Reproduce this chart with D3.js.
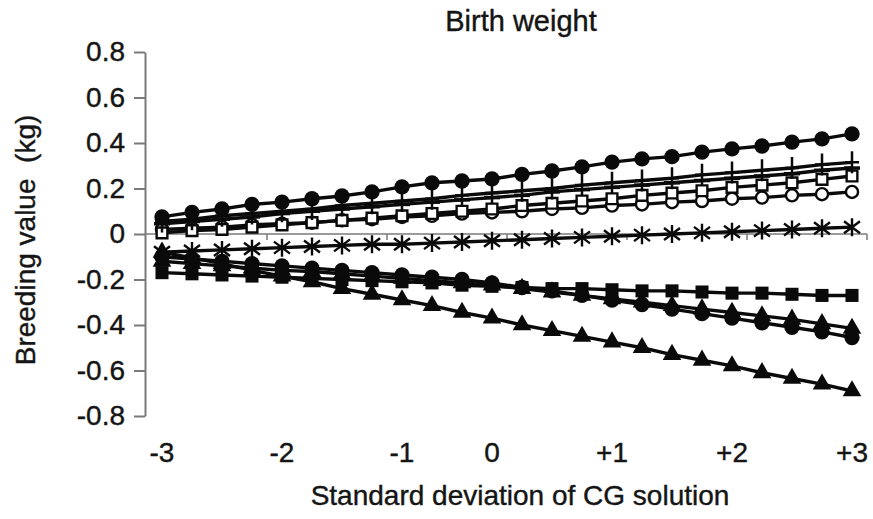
<!DOCTYPE html>
<html>
<head>
<meta charset="utf-8">
<script src="https://cdn.jsdelivr.net/npm/d3@7"></script>
<style>
  html, body { margin: 0; padding: 0; background: #fff; }
  svg { display: block; font-family: Arial, "Liberation Sans", Helvetica, sans-serif; }
</style>
</head>
<body>
<svg id="chart" width="873" height="519"></svg>
<script>
// Category labels along the horizontal axis (24 evaluation points)
const categories = ["-3","","","","-2","","","","-1","","","0","","","","+1","","","","+2","","","","+3"];

// Y axis ticks
const yTicks = [0.8, 0.6, 0.4, 0.2, 0, -0.2, -0.4, -0.6, -0.8];
const yTickLabels = ["0.8", "0.6", "0.4", "0.2", "0", "-0.2", "-0.4", "-0.6", "-0.8"];

// Breeding values (kg) for each animal
const filledCircleTop = [0.075,0.095,0.11,0.13,0.14,0.155,0.167,0.185,0.207,0.225,0.233,0.242,0.262,0.277,0.295,0.316,0.33,0.34,0.36,0.374,0.387,0.404,0.418,0.44];
const plusSeries = [0.055,0.065,0.08,0.09,0.10,0.11,0.125,0.135,0.145,0.155,0.17,0.18,0.19,0.20,0.215,0.225,0.235,0.245,0.26,0.27,0.28,0.29,0.305,0.315];
const dashSeries = [0.045,0.055,0.065,0.075,0.09,0.10,0.11,0.12,0.13,0.14,0.15,0.16,0.17,0.185,0.195,0.205,0.215,0.225,0.235,0.245,0.255,0.265,0.28,0.29];
const openSquare = [0.005,0.015,0.02,0.03,0.04,0.05,0.06,0.07,0.08,0.09,0.10,0.11,0.125,0.135,0.145,0.155,0.17,0.18,0.19,0.205,0.215,0.225,0.24,0.255];
const openCircle = [0.02,0.025,0.03,0.04,0.045,0.05,0.06,0.065,0.075,0.08,0.09,0.095,0.10,0.11,0.115,0.125,0.13,0.14,0.145,0.155,0.16,0.17,0.175,0.185];
const starSeries = [-0.08,-0.075,-0.07,-0.065,-0.06,-0.055,-0.05,-0.045,-0.045,-0.04,-0.035,-0.03,-0.025,-0.02,-0.015,-0.01,-0.005,0,0.005,0.01,0.015,0.02,0.025,0.03];
const filledSquare = [-0.17,-0.175,-0.18,-0.185,-0.19,-0.195,-0.20,-0.205,-0.21,-0.215,-0.225,-0.23,-0.235,-0.24,-0.24,-0.245,-0.25,-0.25,-0.255,-0.26,-0.26,-0.265,-0.27,-0.27];
const filledCircleLow = [-0.10,-0.11,-0.12,-0.13,-0.14,-0.15,-0.16,-0.17,-0.18,-0.19,-0.20,-0.215,-0.235,-0.25,-0.27,-0.29,-0.31,-0.33,-0.35,-0.37,-0.39,-0.41,-0.43,-0.455];
const triangleMid = [-0.12,-0.13,-0.14,-0.15,-0.16,-0.165,-0.175,-0.185,-0.195,-0.205,-0.215,-0.225,-0.24,-0.255,-0.27,-0.285,-0.30,-0.315,-0.33,-0.345,-0.36,-0.375,-0.395,-0.415];
const triangleSteep = [-0.08,-0.105,-0.13,-0.16,-0.185,-0.21,-0.24,-0.265,-0.29,-0.315,-0.345,-0.37,-0.40,-0.425,-0.45,-0.475,-0.50,-0.53,-0.555,-0.58,-0.61,-0.635,-0.66,-0.69];

const seriesList = [
  { values: openCircle, marker: "openCircle" },
  { values: openSquare, marker: "openSquare" },
  { values: dashSeries, marker: "dash" },
  { values: plusSeries, marker: "plus" },
  { values: filledCircleTop, marker: "circle" },
  { values: starSeries, marker: "star" },
  { values: filledSquare, marker: "square" },
  { values: triangleMid, marker: "triangle" },
  { values: filledCircleLow, marker: "circle" },
  { values: triangleSteep, marker: "triangle" }
];

const svg = d3.select("#chart");
const ink = "#0a0a0a";
const textInk = "#151515";
const axisGrey = "#7a7a7a";

const x = d3.scaleBand().domain(d3.range(categories.length)).range([147, 867]);
const cx = i => x(i) + x.bandwidth() / 2;
const y = d3.scaleLinear().domain([-0.8, 0.8]).range([416, 52]);

// Title
svg.append("text")
  .attr("x", 521).attr("y", 31)
  .attr("text-anchor", "middle")
  .attr("font-size", 29).attr("fill", textInk)
  .attr("stroke", textInk).attr("stroke-width", 0.4)
  .text("Birth weight");

// Y axis
const yAxis = svg.append("g")
  .attr("transform", `translate(145,0)`)
  .call(d3.axisLeft(y).tickValues(yTicks)
    .tickFormat((d, i) => yTickLabels[i])
    .tickSize(11).tickSizeOuter(0).tickPadding(9));
yAxis.select(".domain").attr("stroke", axisGrey).attr("stroke-width", 2);
yAxis.selectAll(".tick line").attr("stroke", axisGrey).attr("stroke-width", 2);
yAxis.selectAll(".tick text").attr("font-size", 28).attr("fill", textInk)
  .attr("stroke", textInk).attr("stroke-width", 0.4)
  .attr("font-family", "Arial, 'Liberation Sans', sans-serif");

// Y axis title
svg.append("text")
  .attr("transform", `translate(35,240) rotate(-90)`)
  .attr("text-anchor", "middle")
  .attr("font-size", 28).attr("fill", textInk)
  .attr("stroke", textInk).attr("stroke-width", 0.4)
  .style("white-space", "pre")
  .text("Breeding value  (kg)");

// Horizontal axis line at zero with tick marks every four categories
const zeroY = y(0);
const [x0, x1] = x.range();
svg.append("line")
  .attr("x1", x0 - 2).attr("x2", x1)
  .attr("y1", zeroY).attr("y2", zeroY)
  .attr("stroke", axisGrey).attr("stroke-width", 1.5);
const tickIdx = d3.range(0, categories.length + 1, 4).filter(i => i > 0);
svg.append("g").selectAll("line")
  .data(tickIdx)
  .join("line")
  .attr("x1", i => i < categories.length ? x(i) : x1)
  .attr("x2", i => i < categories.length ? x(i) : x1)
  .attr("y1", zeroY).attr("y2", zeroY + 6)
  .attr("stroke", axisGrey).attr("stroke-width", 1.5);

// Category labels at the bottom of the plot
const xAxis = svg.append("g")
  .attr("transform", `translate(0,452)`)
  .call(d3.axisBottom(x).tickFormat(i => categories[i]).tickSize(0).tickPadding(0));
xAxis.select(".domain").remove();
xAxis.selectAll(".tick text")
  .attr("y", 0).attr("dy", "0.35em")
  .attr("font-size", 28).attr("fill", textInk)
  .attr("stroke", textInk).attr("stroke-width", 0.4)
  .attr("font-family", "Arial, 'Liberation Sans', sans-serif");

// X axis title
svg.append("text")
  .attr("x", 520).attr("y", 505)
  .attr("text-anchor", "middle")
  .attr("font-size", 28).attr("fill", textInk)
  .attr("stroke", textInk).attr("stroke-width", 0.4)
  .text("Standard deviation of CG solution");

// Marker shapes
const symCircle = d3.symbol().type(d3.symbolCircle).size(185)();
const symSquare = d3.symbol().type(d3.symbolSquare).size(170)();
const symTriangle = d3.symbol().type(d3.symbolTriangle).size(150)();
const symOpenCircle = d3.symbol().type(d3.symbolCircle).size(115)();
const symOpenSquare = d3.symbol().type(d3.symbolSquare).size(115)();

function drawMarker(g, kind) {
  switch (kind) {
    case "circle":
      g.append("path").attr("d", symCircle).attr("fill", ink); break;
    case "square":
      g.append("path").attr("d", symSquare).attr("fill", ink); break;
    case "triangle":
      g.append("path").attr("d", symTriangle).attr("fill", ink); break;
    case "openCircle":
      g.append("path").attr("d", symOpenCircle).attr("fill", "#fff").attr("stroke", ink).attr("stroke-width", 2.4); break;
    case "openSquare":
      g.append("path").attr("d", symOpenSquare).attr("fill", "#fff").attr("stroke", ink).attr("stroke-width", 2.4); break;
    case "plus":
      g.append("path").attr("d", "M0,-11V11M-7,0H7").attr("stroke", ink).attr("stroke-width", 2.5); break;
    case "dash":
      g.append("path").attr("d", "M-8,0H8").attr("stroke", ink).attr("stroke-width", 3.5); break;
    case "star":
      g.append("path").attr("d", "M0,-9V9M-8,-6L8,6M-8,6L8,-6").attr("stroke", ink).attr("stroke-width", 2.4); break;
  }
}

const line = d3.line().x((d, i) => cx(i)).y(d => y(d));

const plot = svg.append("g");
seriesList.forEach(s => {
  const g = plot.append("g");
  g.append("path")
    .attr("d", line(s.values))
    .attr("fill", "none").attr("stroke", ink).attr("stroke-width", 3.4);
  g.selectAll("g.m")
    .data(s.values)
    .join("g").attr("class", "m")
    .attr("transform", (d, i) => `translate(${cx(i)},${y(d)})`)
    .each(function () { drawMarker(d3.select(this), s.marker); });
});
</script>
</body>
</html>
